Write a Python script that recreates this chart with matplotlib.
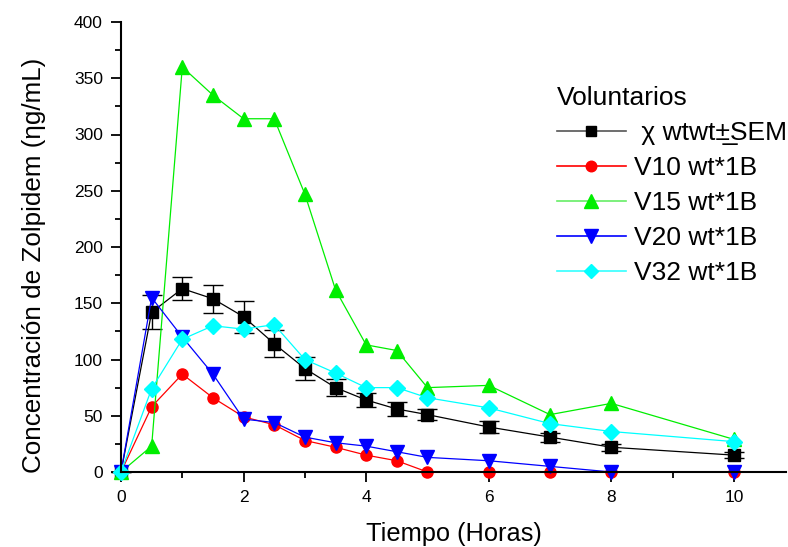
import matplotlib
matplotlib.use("Agg")
import matplotlib.pyplot as plt
from matplotlib.ticker import MultipleLocator
from matplotlib.lines import Line2D

plt.rcParams['font.family'] = ['Liberation Sans', 'DejaVu Sans']

t = [0, 0.5, 1, 1.5, 2, 2.5, 3, 3.5, 4, 4.5, 5, 6, 7, 8, 10]
mean = [0, 142, 163, 154, 138, 114, 92, 75, 64, 56, 51, 40, 31, 22, 15]
sem = [0, 15, 10, 12.5, 14, 12, 10.5, 7.5, 6.5, 6, 5, 5, 4, 3, 2.5]
v10 = [0, 58, 87, 66, 49, 42, 28, 22, 15, 10, 0, 0, 0, 0, 0]
v15 = [0, 23, 360, 335, 314, 314, 247, 162, 113, 108, 75, 77, 51, 61, 29]
v20 = [0, 155, 120, 87, 47, 44, 31, 26, 23, 18, 13, 10, 5, 0, 0]
v32 = [0, 74, 118, 130, 127, 131, 100, 88, 75, 75, 66, 57, 43, 36, 27]

labels = [" χ wtwt±\u0332SEM", "V10 wt*1B", "V15 wt*1B",
          "V20 wt*1B", "V32 wt*1B"]

fig = plt.figure(figsize=(7.88, 5.47), dpi=100)
ax = fig.add_axes([121/788, 75/547, 665/788, 450/547])

lw = 0.9
styles = [
    dict(color='black', marker='s', ms=8),
    dict(color='#ff0000', marker='o', ms=8),
    dict(color='#00ee00', marker='^', ms=10),
    dict(color='#0000ff', marker='v', ms=10),
    dict(color='#00ffff', marker='D', ms=8),
]
legend_colors = ['#555555', '#ff0000', '#66ee66', '#0000ff', '#33ffff']

ax.errorbar(t, mean, yerr=sem, lw=lw, capsize=7, elinewidth=1.0,
            capthick=1.0, zorder=3, clip_on=False, **styles[0])
series = [v10, v15, v20, v32]
for i, ys in enumerate(series):
    ax.plot(t, ys, lw=lw, zorder=4 + i, clip_on=False, **styles[i + 1])

handles = []
for st, lc in zip(styles, legend_colors):
    h = Line2D([], [], color=lc, lw=1.2, marker=st['marker'], ms=st['ms'] * 0.95,
               markerfacecolor=st['color'], markeredgecolor=st['color'])
    handles.append(h)

ax.set_xlim(0, 10.85)
ax.set_ylim(0, 400)
ax.xaxis.set_major_locator(MultipleLocator(2))
ax.xaxis.set_minor_locator(MultipleLocator(1))
ax.yaxis.set_major_locator(MultipleLocator(50))
ax.yaxis.set_minor_locator(MultipleLocator(25))
for s in ['top', 'right']:
    ax.spines[s].set_visible(False)
for s in ['left', 'bottom']:
    ax.spines[s].set_linewidth(1.5)
ax.tick_params(which='major', length=7, width=1.3, labelsize=12.5,
               direction='out', pad=6)
ax.tick_params(which='minor', length=4, width=1.3, direction='out')
ax.set_xlabel("Tiempo (Horas)", fontsize=18.3)
ax.set_ylabel("Concentración de Zolpidem (ηg/mL)", fontsize=18.7)
ax.xaxis.set_label_coords(0.5, -0.11)
ax.yaxis.set_label_coords(-0.113, 0.46)
for sp in ax.spines.values():
    sp.set_zorder(10)

leg = ax.legend(handles, labels, loc='upper left',
                bbox_to_anchor=(557/788, 1 - 86/547),
                bbox_transform=fig.transFigure, frameon=False, fontsize=19,
                title="Voluntarios", title_fontsize=19, handlelength=2.6,
                handletextpad=0.3, labelspacing=0.42, borderpad=0,
                borderaxespad=0, alignment='left')

fig.savefig("out.png", dpi=100)
